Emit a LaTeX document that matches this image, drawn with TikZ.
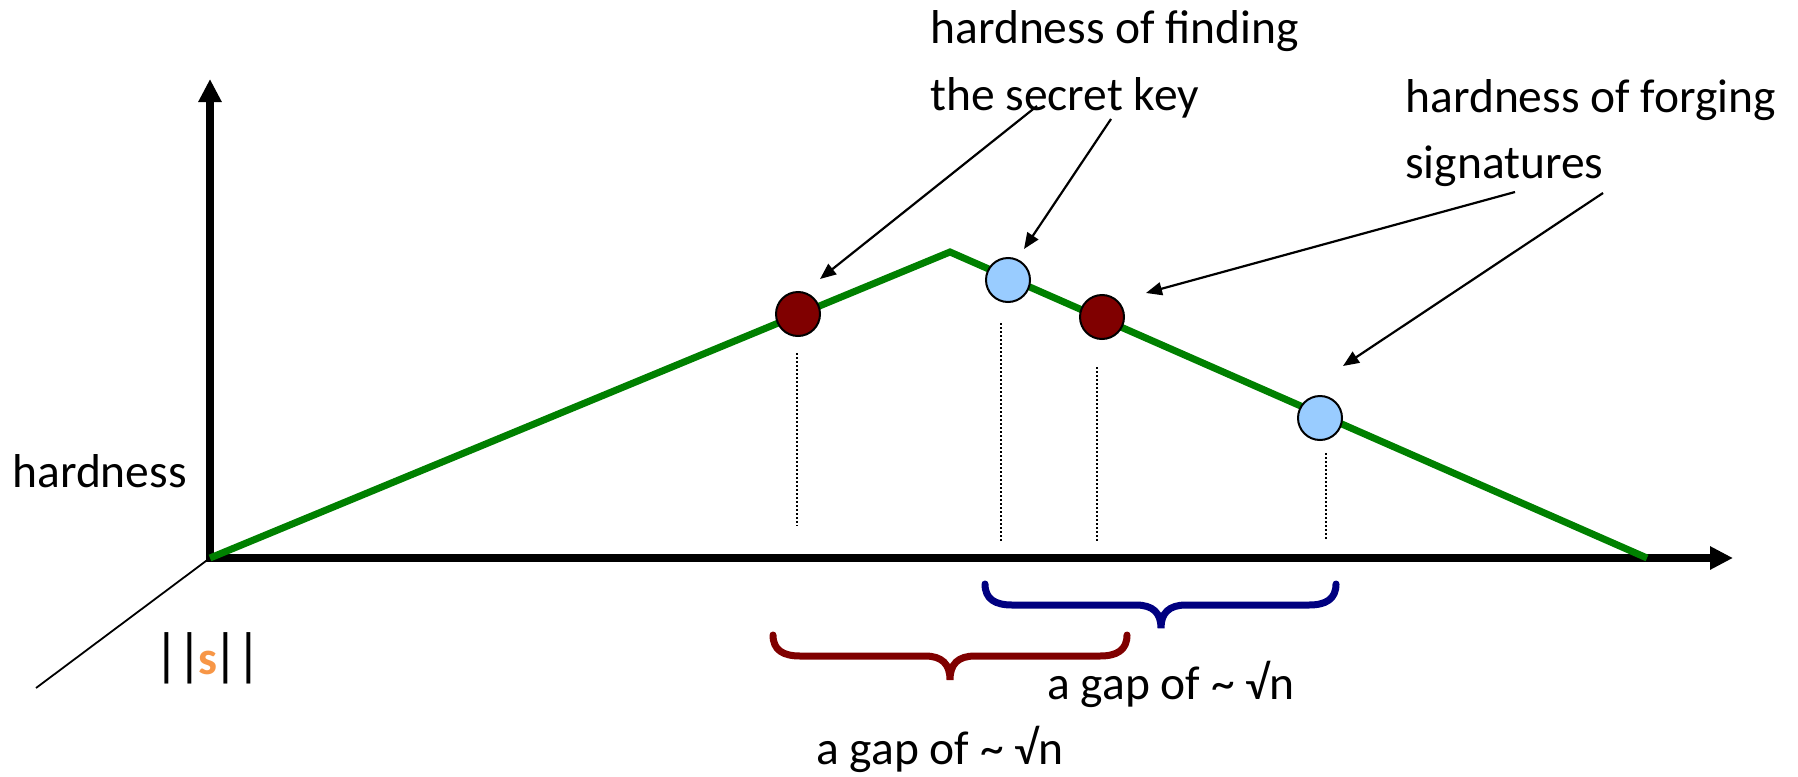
\documentclass[tikz,border=0pt]{standalone}
\usepackage{fontspec}
\setmainfont{Carlito}
\usetikzlibrary{arrows.meta}
\definecolor{lgreen}{RGB}{0,128,0}
\definecolor{dred}{RGB}{128,0,0}
\definecolor{lblue}{RGB}{153,204,255}
\definecolor{navyb}{RGB}{0,0,128}
\definecolor{sorange}{RGB}{247,150,70}
\begin{document}
\begin{tikzpicture}[x=0.5pt,y=-0.5pt,
  lbl/.style={font=\fontsize{23.75}{28}\selectfont, inner sep=0pt, anchor=base west},
  axis/.style={line width=4pt, -{Triangle[length=11.5pt,width=11pt]}},
  curve/.style={line width=3.5pt, lgreen, line join=miter},
  dot/.style={circle, draw=black, line width=1pt, minimum size=22pt, inner sep=0pt},
  reddot/.style={dot, fill=dred},
  bluedot/.style={dot, fill=lblue},
  callout/.style={line width=1.1pt, -{Triangle[length=8pt,width=6.5pt]}},
  guide/.style={line width=0.9pt, dash pattern=on 1pt off 1pt},
  brace/.style={line width=3.5pt, line cap=round}]

\useasboundingbox (0,0) rectangle (1798,776);

% axes
\coordinate (O) at (210,558);
\coordinate (Ob) at (210,562);
\coordinate (Ol) at (206,558);
\coordinate (ytip) at (210,79);
\coordinate (xtip) at (1733,558);
\coordinate (ztip) at (36,688);
\draw[axis] (Ob) -- (ytip);
\draw[axis] (Ol) -- (xtip);
\draw[line width=0.9pt] (O) -- (ztip);

% hardness curve
\coordinate (peak) at (950,252);
\coordinate (cend) at (1647,558);
\draw[curve] (O) -- (peak) -- (cend);

% dotted guides
\draw[guide] (797,353) -- (797,526);
\draw[guide] (1001,323) -- (1001,541);
\draw[guide] (1097,367) -- (1097,541);
\draw[guide] (1326,453) -- (1326,539);

% points
\node[reddot] (r1) at (798,314) {};
\node[bluedot] (b1) at (1008,280) {};
\node[reddot] (r2) at (1102,317) {};
\node[bluedot] (b2) at (1320,418) {};

% labels
\node[lbl] (hard) at (12,487) {hardness};
\node[lbl] (snorm) at (153,674) {{\fontsize{29}{29}\selectfont|\kern-1.6pt|}\kern-2.6pt\textcolor{sorange}{\textbf{s}}\kern-2.6pt{\fontsize{29}{29}\selectfont|\kern-1.6pt|}};
\node[lbl] (key1) at (930,43) {hardness of finding};
\node[lbl] (key2) at (930,110) {the secret key};
\node[lbl] (forge1) at (1405,112) {hardness of forging};
\node[lbl] (forge2) at (1405,178) {signatures};
\node[lbl] (gapb) at (1047,699) {a gap of \textasciitilde{} √n};
\node[lbl] (gapr) at (816,764) {a gap of \textasciitilde{} √n};

% callout arrows
\coordinate (a1s) at (1037,106); \coordinate (a1e) at (820,279);
\coordinate (a2s) at (1111,119); \coordinate (a2e) at (1024,249);
\coordinate (a3s) at (1515,192); \coordinate (a3e) at (1146,293);
\coordinate (a4s) at (1603,193); \coordinate (a4e) at (1343,366);
\draw[callout] (a1s) -- (a1e);
\draw[callout] (a2s) -- (a2e);
\draw[callout] (a3s) -- (a3e);
\draw[callout] (a4s) -- (a4e);

% braces
\draw[brace, dred] (773,635) .. controls (773,650) and (783,656) .. (800,656) -- (925,656)
  .. controls (942,656) and (950,664) .. (950,680)
  .. controls (950,664) and (958,656) .. (975,656) -- (1100,656)
  .. controls (1117,656) and (1127,650) .. (1127,635);
\draw[brace, navyb] (985,584) .. controls (985,599) and (995,605) .. (1012,605) -- (1136,605)
  .. controls (1153,605) and (1161,613) .. (1161,628)
  .. controls (1161,613) and (1169,605) .. (1186,605) -- (1309,605)
  .. controls (1326,605) and (1336,599) .. (1336,584);
\end{tikzpicture}
\end{document}
